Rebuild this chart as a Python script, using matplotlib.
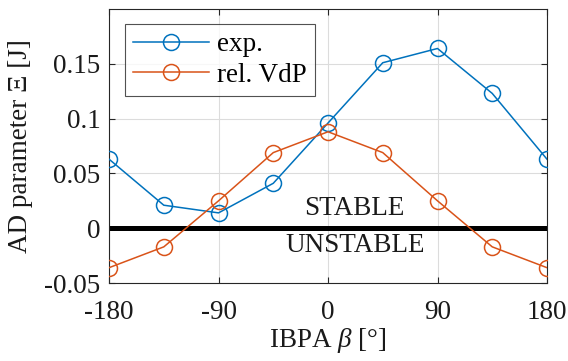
import matplotlib
matplotlib.use("Agg")
import matplotlib.pyplot as plt

plt.rcParams['font.family'] = ['Liberation Serif', 'DejaVu Serif']
plt.rcParams['mathtext.fontset'] = 'custom'
plt.rcParams['mathtext.it'] = 'Liberation Serif:italic'
plt.rcParams['mathtext.rm'] = 'Liberation Serif'

# IBPA angles [deg]
ibpa = [-180, -135, -90, -45, 0, 45, 90, 135, 180]
# AD parameter values [J]
xi_exp = [0.063, 0.021, 0.014, 0.041, 0.096, 0.151, 0.164, 0.123, 0.063]
xi_vdp = [-0.036, -0.017, 0.025, 0.069, 0.088, 0.069, 0.025, -0.017, -0.036]

xticks = [-180, -90, 0, 90, 180]
yticks = [-0.05, 0, 0.05, 0.1, 0.15]
ytick_labels = ['-0.05', '0', '0.05', '0.1', '0.15']

FS = 19.5
TXT = '#1a1a1a'

fig = plt.figure(figsize=(5.68, 3.61), dpi=100)
ax = fig.add_axes([0.192, 0.216, 0.771, 0.759])

ax.grid(True, color='#dcdcdc', linewidth=0.8)
ax.set_axisbelow(True)

ax.axhline(0, color='black', linewidth=3.6, zorder=2)

ax.plot(ibpa, xi_exp, '-o', color='#0072BD', markerfacecolor='none',
        markersize=11.5, linewidth=1.1, markeredgewidth=1.1, label='exp.', zorder=3)
ax.plot(ibpa, xi_vdp, '-o', color='#D95319', markerfacecolor='none',
        markersize=11.5, linewidth=1.1, markeredgewidth=1.1, label='rel. VdP', zorder=3)

ax.text(22, 0.018, 'STABLE', ha='center', va='center', fontsize=FS, color=TXT)
ax.text(22, -0.016, 'UNSTABLE', ha='center', va='center', fontsize=FS, color=TXT)

ax.set_xlim(-180, 180)
ax.set_ylim(-0.05, 0.2)
ax.set_xticks(xticks)
ax.set_xticklabels([str(t) for t in xticks])
ax.set_yticks(yticks)
ax.set_yticklabels(ytick_labels)
ax.tick_params(direction='in', top=True, right=True, labelsize=FS,
               length=4, width=0.8, colors='#262626', labelcolor=TXT)
ax.tick_params(axis='x', pad=12)
ax.tick_params(axis='y', pad=6)
for s in ax.spines.values():
    s.set_color('#262626')
    s.set_linewidth(0.8)

ax.set_xlabel(r'IBPA $\beta$ [°]', fontsize=FS, color=TXT, labelpad=1)
ax.set_ylabel('AD parameter Ξ [J]', fontsize=FS, color=TXT, labelpad=8)

leg = ax.legend(loc='upper left', fontsize=FS, frameon=True, fancybox=False,
                edgecolor='#262626', borderpad=0.3, handlelength=2.8,
                handletextpad=0.3, borderaxespad=0, labelspacing=0.2,
                bbox_to_anchor=(0.037, 0.945))
leg.get_frame().set_linewidth(0.8)

fig.savefig('out.png', dpi=100)
